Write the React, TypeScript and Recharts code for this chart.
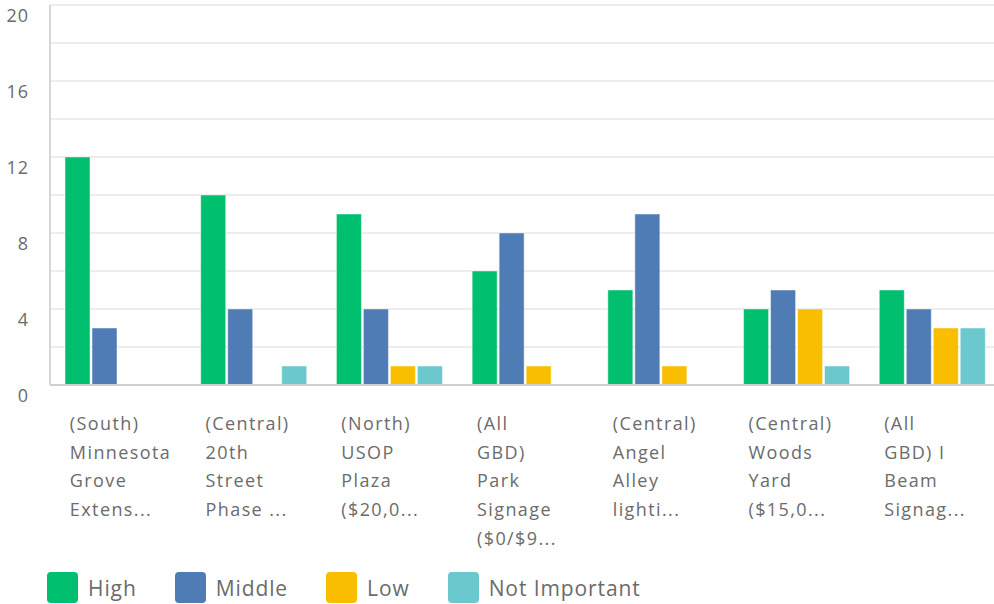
import { BarChart, Bar, XAxis, YAxis, CartesianGrid } from 'recharts';

const categories = [
  '(South)\nMinnesota\nGrove\nExtens...',
  '(Central)\n20th\nStreet\nPhase ...',
  '(North)\nUSOP\nPlaza\n($20,0...',
  '(All\nGBD)\nPark\nSignage\n($0/$9...',
  '(Central)\nAngel\nAlley\nlighti...',
  '(Central)\nWoods\nYard\n($15,0...',
  '(All\nGBD) I\nBeam\nSignag...',
];
const high = [12, 10, 9, 6, 5, 4, 5];
const middle = [3, 4, 4, 8, 9, 5, 4];
const low = [0, 0, 1, 1, 1, 4, 3];
const notImportant = [0, 1, 1, 0, 0, 1, 3];
const yTicks = [0, 2, 4, 6, 8, 10, 12, 14, 16, 18, 20];

const series = [
  { key: 'high', name: 'High', color: '#00bf6f' },
  { key: 'middle', name: 'Middle', color: '#507cb6' },
  { key: 'low', name: 'Low', color: '#f9be00' },
  { key: 'notImportant', name: 'Not Important', color: '#6bc8cd' },
];

const data = categories.map((name, i) => ({
  name,
  high: high[i],
  middle: middle[i],
  low: low[i],
  notImportant: notImportant[i],
}));

const FONT = '"Open Sans", sans-serif';

function YTick({ x, y, payload }: any) {
  if (payload.value % 4 !== 0) return null;
  return (
    <text x={x - 13} y={y + 17} textAnchor="end" fontSize={18} letterSpacing={1} fill="#6b6b6b" fontFamily={FONT}>
      {payload.value}
    </text>
  );
}

function XTick({ x, y, payload }: any) {
  const lines = String(payload.value).split('\n');
  return (
    <text x={x - 48} y={y + 45} textAnchor="start" fontSize={18} letterSpacing={1.4} fill="#6b6b6b" fontFamily={FONT}>
      {lines.map((l, i) => (
        <tspan key={i} x={x - 48} dy={i === 0 ? 0 : 28.7}>
          {l}
        </tspan>
      ))}
    </text>
  );
}

export default function App() {
  return (
    <div style={{ position: 'absolute', left: 0, top: 0, width: 994, height: 604, background: '#fff', overflow: 'hidden' }}>
      <BarChart
        width={1000}
        height={560}
        data={data}
        margin={{ top: 5, right: 0, left: 0, bottom: 5 }}
        barCategoryGap={15}
        barGap={2}
      >
        <CartesianGrid vertical={false} stroke="#ededed" strokeWidth={2} />
        <XAxis
          dataKey="name"
          interval={0}
          height={170}
          tickLine={false}
          tickSize={0}
          tickMargin={0}
          axisLine={{ stroke: '#cfcfcf', strokeWidth: 2 }}
          tick={<XTick />}
        />
        <YAxis
          width={50}
          domain={[0, 20]}
          ticks={yTicks}
          interval={0}
          tickLine={false}
          axisLine={{ stroke: '#d6d6d6', strokeWidth: 2 }}
          tick={<YTick />}
        />
        {series.map((s) => (
          <Bar
            key={s.key}
            dataKey={s.key}
            name={s.name}
            fill={s.color}
            stroke="rgba(255,255,255,0.45)"
            strokeWidth={1}
            isAnimationActive={false}
          />
        ))}
      </BarChart>
      <div
        style={{
          position: 'absolute',
          top: 572,
          left: 47,
          display: 'flex',
          alignItems: 'center',
          fontFamily: FONT,
          fontSize: 21,
          letterSpacing: 0.9,
          color: '#6b6b6b',
        }}
      >
        {series.map((s) => (
          <div key={s.key} style={{ display: 'flex', alignItems: 'center', marginRight: 38 }}>
            <div style={{ width: 31, height: 31, borderRadius: 4, background: s.color, marginRight: 10 }} />
            <span>{s.name}</span>
          </div>
        ))}
      </div>
    </div>
  );
}
